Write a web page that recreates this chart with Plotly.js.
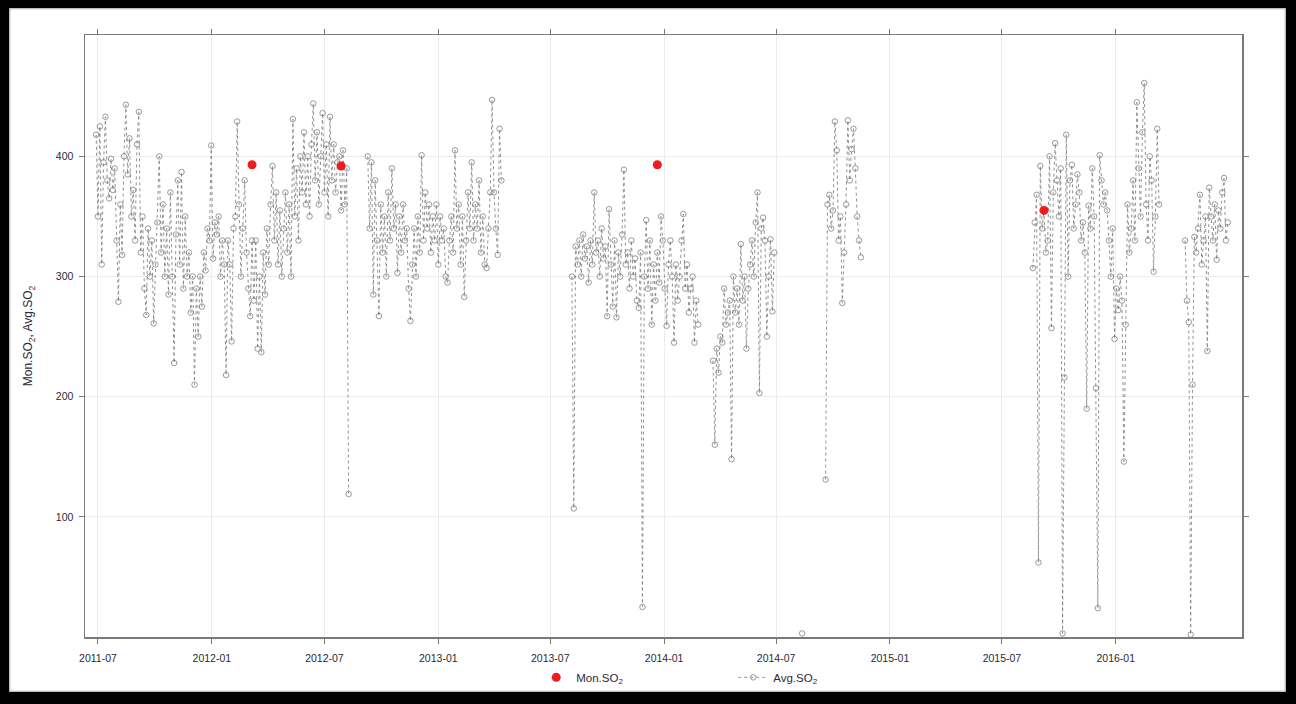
<!DOCTYPE html>
<html>
<head>
<meta charset="utf-8">
<script src="https://cdn.plot.ly/plotly-3.0.1.min.js"></script>
<style>
  html, body { margin: 0; padding: 0; background: #fff; }
  #wrap { position: relative; width: 1296px; height: 704px; overflow: hidden; }
  #chart { position: absolute; left: 0; top: 0; width: 1296px; height: 704px; }
  #frame { position: absolute; left: 0; top: 0; width: 1296px; height: 704px; box-sizing: border-box;
           border-style: solid; border-color: #000; border-width: 8px 10px 12px 9px; pointer-events: none;
           box-shadow: inset 0 0 2px 1px rgba(0,0,0,0.35); }
</style>
</head>
<body>
<div id="wrap"><div id="chart"></div><div id="frame"></div></div>
<script>
// ---- Data ----
// Monthly SO2 (red dots)
const monDates = ['2012-03-06', '2012-07-28', '2013-12-21', '2015-09-07'];
const monValues = [393, 392, 393, 355];

// Daily-average SO2, sampled every 3 days, in continuous runs (gaps between runs)
const avgStepDays = 3;
const segStarts = ['2011-06-28', '2012-09-09', '2013-08-05', '2014-03-21', '2014-08-12', '2014-09-19', '2015-08-20', '2016-04-22'];
const segA = [418, 350, 425, 310, 395, 433, 380, 365, 398, 372, 390, 330, 279, 360, 318, 400, 443, 385, 415, 350,
  372, 330, 410, 437, 320, 350, 290, 268, 340, 300, 330, 261, 310, 345, 400, 320, 360, 300, 340, 285,
  370, 300, 228, 335, 380, 310, 387, 290, 350, 300, 320, 270, 300, 210, 290, 250, 300, 275, 320, 305,
  340, 330, 409, 315, 345, 335, 350, 300, 330, 310, 218, 330, 310, 246, 340, 350, 429, 360, 300, 340,
  380, 320, 290, 267, 330, 280, 330, 240, 300, 237, 320, 285, 340, 310, 360, 392, 330, 370, 310, 355,
  300, 340, 370, 320, 360, 300, 431, 350, 390, 330, 400, 370, 420, 360, 400, 350, 410, 444, 380, 420,
  360, 400, 436, 370, 410, 350, 433, 380, 410, 370, 395, 400, 355, 405, 360, 390, 119];
const segB = [400, 340, 395, 285, 380, 330, 267, 360, 320, 350, 300, 370, 330, 390, 340, 360, 303, 350, 320, 360,
  330, 340, 290, 263, 310, 340, 300, 350, 320, 401, 330, 370, 340, 360, 320, 350, 330, 360, 310, 350,
  330, 340, 300, 295, 330, 350, 320, 405, 340, 360, 310, 350, 283, 330, 370, 340, 395, 330, 360, 340,
  380, 320, 350, 310, 307, 340, 370, 447, 370, 340, 318, 423, 380];
const segC = [300, 107, 325, 310, 330, 300, 335, 315, 325, 295, 330, 310, 370, 320, 330, 300, 340, 315, 325, 267,
  356, 310, 275, 330, 266, 320, 300, 335, 389, 310, 320, 290, 330, 300, 315, 280, 274, 320, 25, 300,
  347, 290, 330, 260, 310, 280, 320, 295, 350, 330, 290, 259, 310, 330, 300, 245, 310, 280, 300, 330,
  352, 290, 310, 270, 290, 300, 245, 280, 260];
const segD = [230, 160, 240, 220, 250, 245, 290, 260, 270, 280, 148, 300, 270, 290, 260, 327, 280, 300, 240, 290,
  310, 330, 300, 345, 370, 203, 340, 349, 330, 250, 300, 331, 271, 320];
const segE = [3];
const segF = [131, 360, 368, 340, 355, 429, 405, 330, 350, 278, 320, 360, 430, 380, 406, 423, 390, 350, 330, 316];
const segG = [307, 345, 368, 62, 392, 340, 355, 320, 330, 400, 257, 370, 411, 380, 350, 390, 3, 216, 418, 300,
  380, 393, 340, 360, 385, 370, 330, 345, 320, 190, 359, 340, 390, 350, 207, 24, 401, 380, 360, 370,
  355, 330, 300, 340, 248, 290, 272, 300, 280, 146, 260, 360, 320, 340, 380, 330, 445, 390, 350, 420,
  461, 360, 330, 400, 380, 304, 350, 423, 360];
const segH = [330, 280, 262, 2, 210, 333, 320, 340, 368, 310, 330, 350, 238, 374, 350, 330, 360, 314, 355, 340,
  370, 382, 330, 345];
const avgSegments = [segA, segB, segC, segD, segE, segF, segG, segH];

// Axis ticks
const xTickVals = ['2011-07-01', '2012-01-01', '2012-07-01', '2013-01-01', '2013-07-01', '2014-01-01', '2014-07-01', '2015-01-01', '2015-07-01', '2016-01-01'];
const xTickText = ['2011-07', '2012-01', '2012-07', '2013-01', '2013-07', '2014-01', '2014-07', '2015-01', '2015-07', '2016-01'];
const yTickVals = [100, 200, 300, 400];

// ---- Build series ----
function addDays(iso, n) {
  const d = new Date(iso + 'T00:00:00Z');
  d.setUTCDate(d.getUTCDate() + n);
  return d.toISOString().slice(0, 10);
}
const avgX = [], avgY = [];
avgSegments.forEach((seg, s) => {
  seg.forEach((v, i) => { avgX.push(addDays(segStarts[s], i * avgStepDays)); avgY.push(v); });
  if (s < avgSegments.length - 1) { avgX.push(addDays(segStarts[s], seg.length * avgStepDays)); avgY.push(null); }
});

const font = "Arial, 'Liberation Sans', sans-serif";
const traces = [
  {
    type: 'scatter', mode: 'lines+markers', name: 'Avg.SO<sub>2</sub>',
    x: avgX, y: avgY, connectgaps: false,
    line: { color: '#858585', width: 0.9, dash: 'dot' },
    marker: { symbol: 'circle-open', size: 5.5, color: '#808080', line: { width: 0.8, color: '#808080' } }
  },
  {
    type: 'scatter', mode: 'markers', name: 'Mon.SO<sub>2</sub>',
    x: monDates, y: monValues,
    marker: { symbol: 'circle', size: 9, color: '#ee1c1c' }
  }
];

const layout = {
  width: 1296, height: 704,
  margin: { l: 85, r: 54, t: 35, b: 59 },
  paper_bgcolor: '#ffffff', plot_bgcolor: '#ffffff',
  font: { family: font, size: 10, color: '#2a2a3a' },
  showlegend: true,
  legend: {
    orientation: 'h', traceorder: 'reversed',
    x: 0.39, xanchor: 'left', y: -0.067, yanchor: 'middle',
    entrywidth: 152, entrywidthmode: 'pixels', itemwidth: 30,
    font: { family: font, size: 11.5, color: '#2a2a3a' }, bgcolor: 'rgba(0,0,0,0)'
  },
  xaxis: {
    type: 'date', range: ['2011-06-10', '2016-07-23'],
    tickmode: 'array', tickvals: xTickVals, ticktext: xTickText,
    showgrid: true, gridcolor: '#ececec', gridwidth: 1, zeroline: false,
    showline: true, linecolor: '#7a7a7a', linewidth: 1.5, mirror: 'ticks',
    ticks: 'outside', ticklen: 5, tickcolor: '#7a7a7a', tickwidth: 1,
    ticklabelstandoff: 6,
    tickfont: { family: font, size: 10.5, color: '#2a2a3a' }
  },
  yaxis: {
    range: [0, 501], tickmode: 'array', tickvals: yTickVals,
    showgrid: true, gridcolor: '#ececec', gridwidth: 1, zeroline: false,
    showline: true, linecolor: '#7a7a7a', linewidth: 1.5, mirror: 'ticks',
    ticks: 'outside', ticklen: 5, tickcolor: '#7a7a7a', tickwidth: 1,
    ticklabelstandoff: 3,
    tickfont: { family: font, size: 10.5, color: '#2a2a3a' },
    title: { text: 'Mon.SO<sub>2</sub>, Avg.SO<sub>2</sub>', font: { family: font, size: 12, color: '#2a2a3a' }, standoff: 20 }
  }
};

Plotly.newPlot('chart', traces, layout, { displayModeBar: false, staticPlot: true });
</script>
</body>
</html>
